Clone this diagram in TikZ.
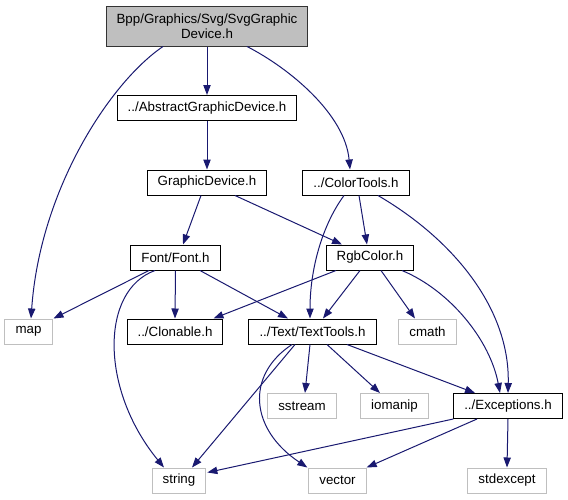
\documentclass[tikz,border=0pt]{standalone}
\usepackage{fontspec}
\setmainfont{Liberation Sans}
\usetikzlibrary{calc,arrows.meta}
\usepackage{xcolor}
\definecolor{edgeblue}{RGB}{25,25,112}
\definecolor{headergray}{RGB}{191,191,191}

\tikzset{
  filebox/.style={draw=black,line width=0.75pt,fill=white,inner xsep=7.9pt,inner ysep=0pt,
    minimum height=18.75pt,font=\fontsize{10}{11.5}\selectfont},
  sysbox/.style={filebox,draw=headergray},
  rootbox/.style={filebox,draw=black!80,fill=headergray,minimum height=30pt,align=center},
  incl/.style={edgeblue,line width=0.75pt,-{Triangle[length=7.5pt,width=5.5pt]}}
}

\begin{document}
\begin{tikzpicture}[x=0.75pt,y=-0.75pt]
  % --- canvas ---
  \useasboundingbox (0,0) rectangle (568,500);

  % --- header files ---
  \node[rootbox] (root) at (207,26) {Bpp/Graphics/Svg/SvgGraphic\\Device.h};
  \node[filebox] (abstract) at (207,108) {../AbstractGraphicDevice.h};
  \node[filebox] (graphic) at (207,182.5) {GraphicDevice.h};
  \node[filebox] (colortools) at (356,182.5) {../ColorTools.h};
  \node[filebox] (font) at (175.5,257.5) {Font/Font.h};
  \node[filebox] (rgb) at (370,257.5) {RgbColor.h};
  \node[filebox] (clonable) at (175,331.5) {../Clonable.h};
  \node[filebox] (texttools) at (312.5,331.5) {../Text/TextTools.h};
  \node[filebox] (exceptions) at (508,406) {../Exceptions.h};

  % --- system headers ---
  \node[sysbox] (map) at (28.5,331.5) {map};
  \node[sysbox] (cmath) at (427.5,331.5) {cmath};
  \node[sysbox] (sstream) at (302,406) {sstream};
  \node[sysbox] (iomanip) at (394.5,406) {iomanip};
  \node[sysbox] (string) at (179,480.5) {string};
  \node[sysbox] (vector) at (337.5,480.5) {vector};
  \node[sysbox] (stdexcept) at (507,480.5) {stdexcept};

  % --- includes of the root file ---
  \draw[incl] ($(root.south)+(-44,0)$) .. controls +(-53,36) and +(9,-129) .. ($(map.north)+(2.5,0)$);
  \draw[incl] (root.south) -- (abstract.north);
  \draw[incl] ($(root.south)+(40,0)$) .. controls +(43,22) and +(-5,-55) .. ($(colortools.north)+(-6,0)$);
  \draw[incl] (abstract.south) -- (graphic.north);

  % --- graphic device and colour tools ---
  \draw[incl] ($(graphic.south)+(-6,0)$) -- ($(font.north)+(7.5,0)$);
  \draw[incl] ($(graphic.south)+(28,0)$) -- ($(rgb.north)+(-28,0)$);
  \draw[incl] ($(colortools.south)+(3,0)$) -- ($(rgb.north)+(-3,0)$);
  \draw[incl] ($(colortools.south)+(-12,0)$) .. controls +(-22,30) and +(0,-49) .. ($(texttools.north)+(-2.5,0)$);
  \draw[incl] ($(colortools.south)+(22,0)$) .. controls +(77,45) and +(2,-83) .. (exceptions.north);

  % --- font ---
  \draw[incl] ($(font.south)+(-26.5,0)$) -- ($(map.north east)+(1,0)$);
  \draw[incl] (font.south) -- (clonable.north);
  \draw[incl] ($(font.south)+(24.5,0)$) -- ($(texttools.north)+(-24.5,0)$);
  \draw[incl] ($(font.south)+(-20.5,0)$) .. controls +(-55,20) and +(-64,-78) .. ($(string.north)+(-15,0)$);

  % --- rgb colour ---
  \draw[incl] ($(rgb.south)+(-34,0)$) -- ($(clonable.north east)+(-10,0)$);
  \draw[incl] ($(rgb.south)+(-10,0)$) -- ($(texttools.north)+(10.5,0)$);
  \draw[incl] ($(rgb.south)+(11,0)$) -- ($(cmath.north)+(-12.5,0)$);
  \draw[incl] ($(rgb.south)+(32,0)$) .. controls +(48,20) and +(-10,-53) .. ($(exceptions.north)+(-8,0)$);

  % --- text tools ---
  \draw[incl] ($(texttools.south)+(-2.5,0)$) -- ($(sstream.north)+(3,0)$);
  \draw[incl] ($(texttools.south)+(14.5,0)$) -- ($(iomanip.north)+(-14.5,0)$);
  \draw[incl] ($(texttools.south)+(34.5,0)$) -- ($(exceptions.north)+(-33,0)$);
  \draw[incl] ($(texttools.south)+(-17.5,0)$) -- ($(string.north)+(13,0)$);
  \draw[incl] ($(texttools.south)+(-20.5,0)$) .. controls +(-47,31) and +(-57,-38) .. ($(vector.north west)+(-1,0)$);

  % --- exceptions ---
  \draw[incl] (exceptions.south west) -- ($(string.north east)+(1,5)$);
  \draw[incl] ($(exceptions.south)+(-31,0)$) -- (vector.north east);
  \draw[incl] (exceptions.south) -- (stdexcept.north);

\end{tikzpicture}
\end{document}
